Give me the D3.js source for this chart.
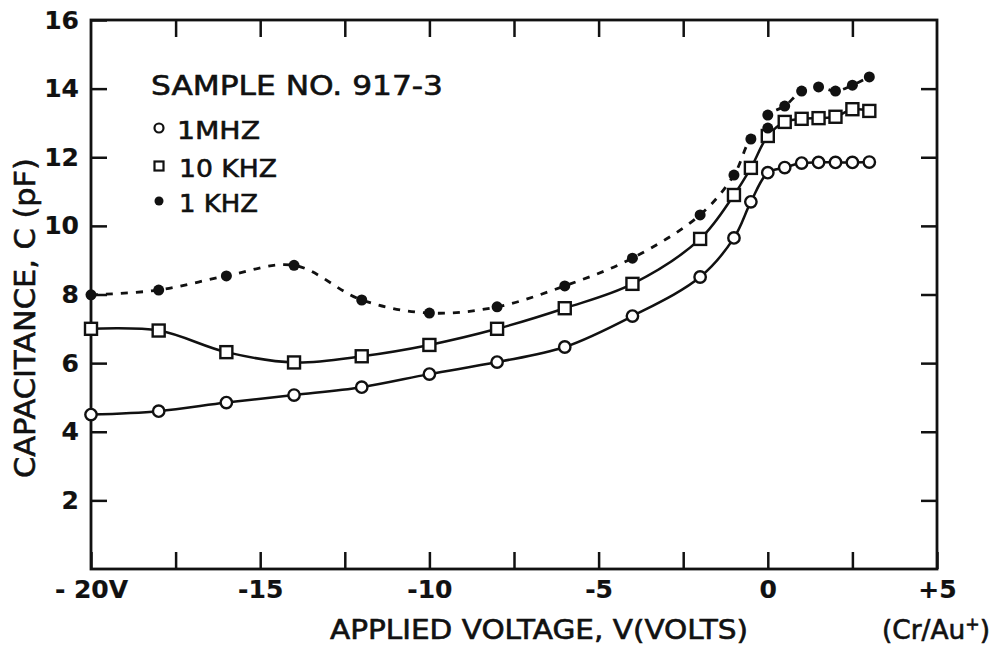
<!DOCTYPE html>
<html>
<head>
<meta charset="utf-8">
<script src="https://cdn.jsdelivr.net/npm/d3@7"></script>
<style>
  body { margin: 0; background: #fff; }
  text { font-family: "DejaVu Sans", sans-serif; fill: #111; stroke: #111; stroke-width: 0.6px; }
</style>
</head>
<body>
<div id="chart"></div>
<script>
// values (volts, pF)
var voltsMHz = [-20, -18, -16, -14, -12, -10, -8, -6, -4, -2, -1, -0.5, 0, 0.5, 1, 1.5, 2, 2.5, 3];
var capMHz   = [4.5, 4.6, 4.85, 5.07, 5.3, 5.68, 6.03, 6.47, 7.37, 8.51, 9.65, 10.7, 11.55, 11.7, 11.83, 11.85, 11.85, 11.85, 11.86];

var volts10k = [-20, -18, -16, -14, -12, -10, -8, -6, -4, -2, -1, -0.5, 0, 0.5, 1, 1.5, 2, 2.5, 3];
var cap10k   = [7.0, 6.95, 6.32, 6.02, 6.2, 6.53, 7.0, 7.6, 8.31, 9.62, 10.9, 11.69, 12.62, 13.03, 13.12, 13.14, 13.18, 13.4, 13.35];

var volts1k = [-20, -18, -16, -14, -12, -10, -8, -6, -4, -2, -1, -0.5, 0, 0, 0.5, 1, 1.5, 2, 2.5, 3];
var cap1k   = [7.99, 8.13, 8.54, 8.85, 7.84, 7.46, 7.64, 8.25, 9.06, 10.32, 11.48, 12.53, 12.85, 13.23, 13.49, 13.93, 14.05, 13.93, 14.1, 14.34];

var xTicks = [-20, -17.5, -15, -12.5, -10, -7.5, -5, -2.5, 0, 2.5, 5];
var xTickLabels = {"-20": "- 20V", "-15": "-15", "-10": "-10", "-5": "-5", "0": "0", "5": "+5"};
var yTicks = [2, 4, 6, 8, 10, 12, 14, 16];

var legendTitle = "SAMPLE NO.  917-3";
var legendNames = ["1MHZ", "10 KHZ", "1 KHZ"];

var width = 999, height = 650;
var mLeft = 91, mRight = 937, mTop = 20, mBottom = 569;

var svg = d3.select('#chart').append('svg')
    .attr('width', width)
    .attr('height', height);

svg.append('rect').attr('width', width).attr('height', height).attr('fill', '#fff');

var x = d3.scaleLinear().domain([-20, 5]).range([mLeft, mRight]);
var y = d3.scaleLinear().domain([0, 16]).range([mBottom, mTop]);

// axes, ticks pointing inward
var xAxis = d3.axisBottom(x).tickValues(xTicks).tickSizeInner(-17).tickSizeOuter(0).tickPadding(11)
    .tickFormat(function(d){ return xTickLabels[String(d)] || ''; });
var xTop = d3.axisTop(x).tickValues(xTicks.slice(1, -1)).tickSizeInner(-17).tickSizeOuter(0).tickFormat('');
var yAxis = d3.axisLeft(y).tickValues(yTicks).tickSizeInner(-16).tickSizeOuter(0).tickPadding(12);
var yRight = d3.axisRight(y).tickValues(yTicks.slice(0, -1)).tickSizeInner(-16).tickSizeOuter(0).tickFormat('');

function styleAxis(g) {
    g.select('.domain').remove();
    g.selectAll('line').attr('stroke', '#111').attr('stroke-width', 2.5);
    g.selectAll('text').attr('font-size', 25).attr('font-weight', 'bold')
        .style('stroke-width', '0.2px').attr('fill', '#111');
}

svg.append('g').attr('transform', 'translate(0,' + mBottom + ')').call(xAxis).call(styleAxis);
svg.append('g').attr('transform', 'translate(0,' + mTop + ')').call(xTop).call(styleAxis);
svg.append('g').attr('transform', 'translate(' + mLeft + ',0)').call(yAxis).call(styleAxis);
svg.append('g').attr('transform', 'translate(' + mRight + ',0)').call(yRight).call(styleAxis);

// frame
svg.append('rect')
    .attr('x', mLeft).attr('y', mTop)
    .attr('width', mRight - mLeft).attr('height', mBottom - mTop)
    .attr('fill', 'none').attr('stroke', '#111').attr('stroke-width', 2.8);

// axis titles
svg.append('text')
    .attr('x', 330).attr('y', 639)
    .attr('font-size', 26)
    .attr('textLength', 418).attr('lengthAdjust', 'spacingAndGlyphs')
    .text('APPLIED VOLTAGE, V(VOLTS)');

var cr = svg.append('text').attr('x', 882).attr('y', 639).attr('font-size', 26)
    .attr('textLength', 108).attr('lengthAdjust', 'spacingAndGlyphs');
cr.append('tspan').text('(Cr/Au');
cr.append('tspan').attr('dy', -9).attr('font-size', 17).text('+');
cr.append('tspan').attr('dy', 9).text(')');

svg.append('text')
    .attr('transform', 'translate(35,478)rotate(-90)')
    .attr('font-size', 28)
    .attr('textLength', 320).attr('lengthAdjust', 'spacingAndGlyphs')
    .text('CAPACITANCE, C (pF)');

// curves
var line = d3.line()
    .x(function(d){ return x(d[0]); })
    .y(function(d){ return y(d[1]); })
    .curve(d3.curveCatmullRom.alpha(0.5));

var dataMHz = d3.zip(voltsMHz, capMHz);
var data10k = d3.zip(volts10k, cap10k);
var data1k  = d3.zip(volts1k, cap1k);

svg.append('path').datum(data1k).attr('d', line)
    .attr('fill', 'none').attr('stroke', '#111').attr('stroke-width', 2.8)
    .attr('stroke-dasharray', '7,8');
svg.append('path').datum(data10k).attr('d', line)
    .attr('fill', 'none').attr('stroke', '#111').attr('stroke-width', 2.5);
svg.append('path').datum(dataMHz).attr('d', line)
    .attr('fill', 'none').attr('stroke', '#111').attr('stroke-width', 2.5);

// markers
svg.selectAll('.sq').data(data10k).enter().append('rect')
    .attr('class', 'sq')
    .attr('x', function(d){ return x(d[0]) - 6; })
    .attr('y', function(d){ return y(d[1]) - 6; })
    .attr('width', 12).attr('height', 12)
    .attr('fill', '#fff').attr('stroke', '#111').attr('stroke-width', 2.4);

svg.selectAll('.oc').data(dataMHz).enter().append('circle')
    .attr('class', 'oc')
    .attr('cx', function(d){ return x(d[0]); })
    .attr('cy', function(d){ return y(d[1]); })
    .attr('r', 5.7)
    .attr('fill', '#fff').attr('stroke', '#111').attr('stroke-width', 2.4);

svg.selectAll('.fc').data(data1k).enter().append('circle')
    .attr('class', 'fc')
    .attr('cx', function(d){ return x(d[0]); })
    .attr('cy', function(d){ return y(d[1]); })
    .attr('r', 5.5)
    .attr('fill', '#111');

// legend
svg.append('text').attr('x', 151).attr('y', 95).attr('font-size', 27)
    .attr('textLength', 292).attr('lengthAdjust', 'spacingAndGlyphs')
    .text(legendTitle);

var legY = [128, 166, 201];
var legX = [177, 179, 179];
var legW = [83, 98, 79];
var legG = svg.append('g');
legendNames.forEach(function(name, i){
    var cy = legY[i];
    if (i === 0) {
        legG.append('circle').attr('cx', 159).attr('cy', cy).attr('r', 4.5)
            .attr('fill', '#fff').attr('stroke', '#111').attr('stroke-width', 2.2);
    } else if (i === 1) {
        legG.append('rect').attr('x', 154.5).attr('y', cy - 4.5).attr('width', 9).attr('height', 9)
            .attr('fill', '#fff').attr('stroke', '#111').attr('stroke-width', 2.2);
    } else {
        legG.append('circle').attr('cx', 159).attr('cy', cy).attr('r', 4.5).attr('fill', '#111');
    }
    legG.append('text').attr('x', legX[i]).attr('y', cy + 11).attr('font-size', 25)
        .attr('textLength', legW[i]).attr('lengthAdjust', 'spacingAndGlyphs').text(name);
});
</script>
</body>
</html>
